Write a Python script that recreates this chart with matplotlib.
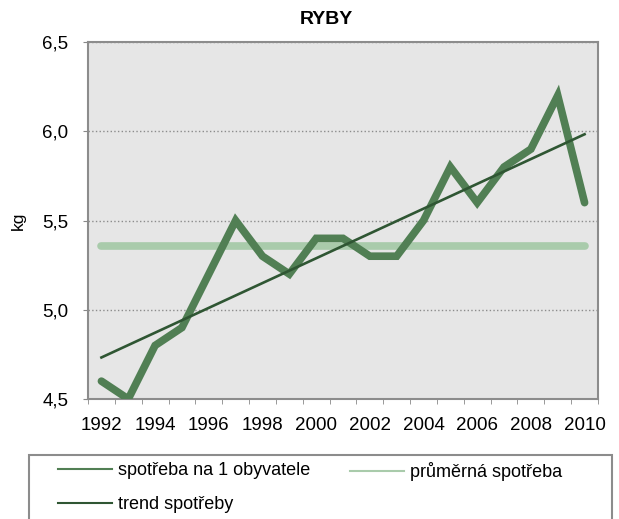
import numpy as np
import matplotlib
matplotlib.use('Agg')
import matplotlib.pyplot as plt
from matplotlib.lines import Line2D
from matplotlib.patches import Rectangle
from matplotlib.ticker import FixedLocator, FuncFormatter

plt.rcParams['font.family'] = ['Liberation Sans', 'DejaVu Sans']

# data
years = list(range(1992, 2011))
consumption = [4.6, 4.5, 4.8, 4.9, 5.2, 5.5, 5.3, 5.2, 5.4, 5.4,
               5.3, 5.3, 5.5, 5.8, 5.6, 5.8, 5.9, 6.2, 5.6]
labels = ['spotřeba na 1 obyvatele', 'průměrná spotřeba', 'trend spotřeby']

c_main = '#517f54'
c_avg = '#a9cbab'
c_trend = '#2f5633'

x = np.array(years)
y = np.array(consumption)
avg = np.full(len(x), y.mean())
k, q = np.polyfit(x, y, 1)
trend = k * x + q

W, H = 619, 519
fig = plt.figure(figsize=(W / 100, H / 100), dpi=100)
ax = fig.add_axes([88 / W, 1 - 399 / H, (598 - 88) / W, (399 - 42) / H])
ax.set_facecolor('#e6e6e6')

ax.plot(x, y, color=c_main, lw=5.5, solid_capstyle='round', solid_joinstyle='miter', zorder=3)
ax.plot(x, avg, color=c_avg, lw=5.5, solid_capstyle='round', zorder=2)
ax.plot(x, trend, color=c_trend, lw=1.9, zorder=4)

ax.set_xlim(1991.5, 2010.5)
ax.set_ylim(4.5, 6.5)
ax.set_xticks(years[::2])
ax.xaxis.set_minor_locator(FixedLocator(np.arange(1991.5, 2011, 1)))
ax.set_yticks([4.5, 5.0, 5.5, 6.0, 6.5])
ax.yaxis.set_major_formatter(FuncFormatter(lambda v, p: ('%.1f' % v).replace('.', ',')))
ax.tick_params(axis='x', which='major', length=0, labelsize=13.5, pad=13)
ax.tick_params(axis='x', which='minor', length=3.6, color='#888888')
ax.tick_params(axis='y', length=3.6, color='#888888', labelsize=13.5, pad=10.5)
ax.grid(axis='y', color='#8c8c8c', ls=':', lw=1)
for s in ax.spines.values():
    s.set_color('#8c8c8c')
    s.set_linewidth(1.5)
ax.set_ylabel('kg', fontsize=12.5, labelpad=12)

fig.text(326 / W, 1 - 20 / H, 'RYBY', ha='center', va='center', fontsize=14, fontweight='bold')

# legend box (cut off at the bottom as in the original)
fig.patches.append(Rectangle((29 / W, -0.05), (612 - 29) / W, 0.05 + 1 - 455 / H,
                             transform=fig.transFigure, fill=False, ec='#8c8c8c', lw=1.5))
h_main = Line2D([], [], color=c_main, lw=1.5)
h_avg = Line2D([], [], color=c_avg, lw=1.5)
h_trend = Line2D([], [], color=c_trend, lw=1.5)
leg_kw = dict(frameon=False, fontsize=13, handlelength=3.0, handletextpad=0.3,
              labelspacing=0.95, borderpad=0, borderaxespad=0, loc='upper left')
fig.legend([h_main, h_trend], [labels[0], labels[2]],
           bbox_to_anchor=(58 / W, 1 - 462 / H), **leg_kw)
fig.legend([h_avg], [labels[1]], bbox_to_anchor=(350 / W, 1 - 462 / H), **leg_kw)

fig.savefig('out.png', dpi=100)
